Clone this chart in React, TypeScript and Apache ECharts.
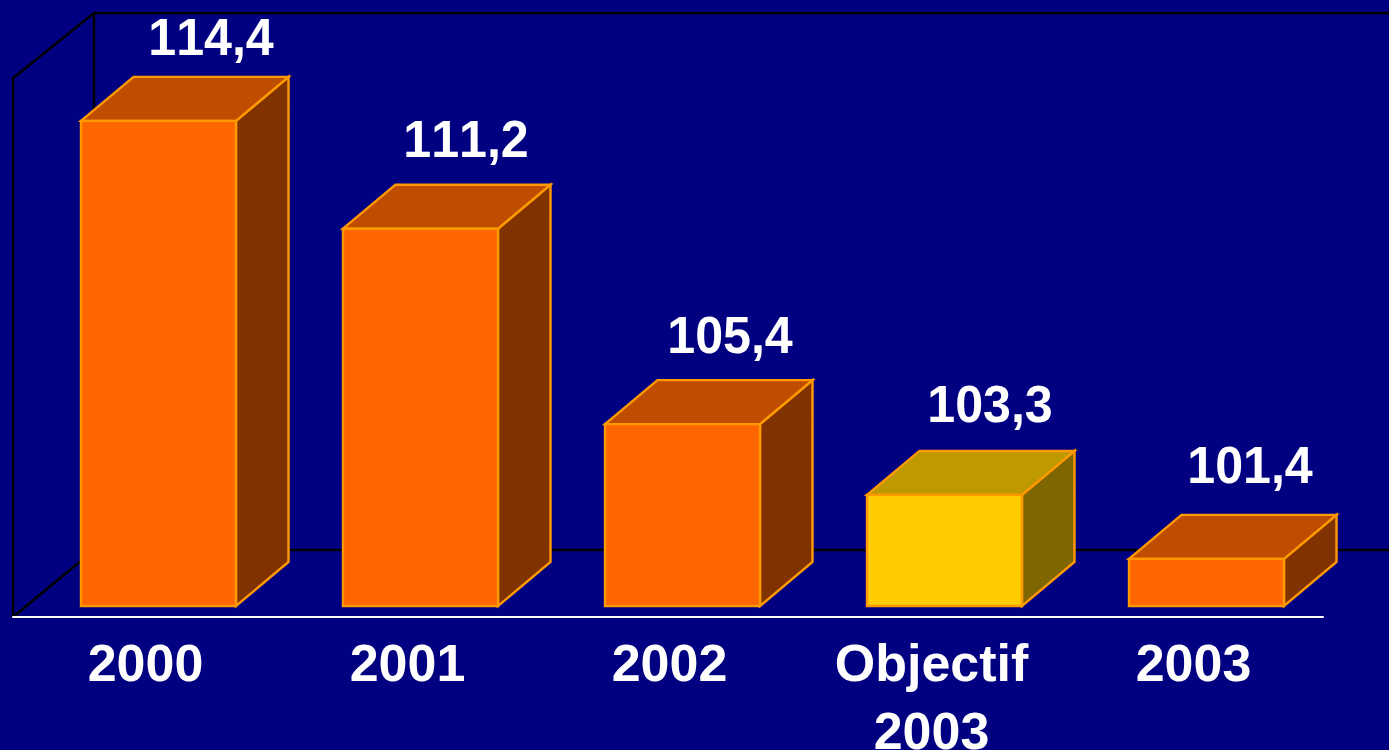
import React, { useEffect, useRef } from "react";
import * as echarts from "echarts";

const categories = ["2000", "2001", "2002", "Objectif\n2003", "2003"];
const values = [114.4, 111.2, 105.4, 103.3, 101.4];
const highlighted = [false, false, false, true, false];

const FONT = '"Liberation Sans", Arial, sans-serif';
const BG = "#000080";
const EDGE = "#FF9900";
const NORMAL = { front: "#FF6600", top: "#BF4D00", side: "#803300" };
const HIGHLIGHT = { front: "#FFCC00", top: "#BF9900", side: "#806600" };

// 3D look of the bars: gap to the front plane, depth vector, front-face width
const GAP_X = 14.5;
const GAP_Y = -11;
const DEPTH_X = 52.5;
const DEPTH_Y = -44;
const BAR_W = 155;
// hand-placed value labels in the reference: offsets from the bar's top-front centre
const LABEL_DX = [52.5, 45.5, 47.5, 45.5, 43.5];
const LABEL_DY = [-84, -90, -89, -91, -93.5];

const GRID = { left: 13, top: 78, width: 1310, height: 539 };

function renderBar(params: any, api: any) {
  const i = params.dataIndex;
  const top = api.coord([i, api.value(1)]);
  const base = api.coord([i, 100]);
  const c = highlighted[i] ? HIGHLIGHT : NORMAL;
  const x0 = top[0] + GAP_X - BAR_W / 2;
  const x1 = x0 + BAR_W;
  const y0 = top[1] + GAP_Y;
  const y1 = base[1] + GAP_Y;
  const style = (fill: string) => ({ fill, stroke: EDGE, lineWidth: 2.4, lineJoin: "miter" });
  const poly = (points: number[][], fill: string) => ({
    type: "polygon",
    shape: { points },
    style: style(fill),
  });
  return {
    type: "group",
    children: [
      poly(
        [
          [x1, y0],
          [x1 + DEPTH_X, y0 + DEPTH_Y],
          [x1 + DEPTH_X, y1 + DEPTH_Y],
          [x1, y1],
        ],
        c.side,
      ),
      poly(
        [
          [x0, y0],
          [x0 + DEPTH_X, y0 + DEPTH_Y],
          [x1 + DEPTH_X, y0 + DEPTH_Y],
          [x1, y0],
        ],
        c.top,
      ),
      poly(
        [
          [x0, y0],
          [x1, y0],
          [x1, y1],
          [x0, y1],
        ],
        c.front,
      ),
      {
        type: "text",
        x: top[0] + GAP_X + LABEL_DX[i],
        y: y0 + LABEL_DY[i],
        scaleX: 0.965,
        style: {
          text: api.value(1).toFixed(1).replace(".", ","),
          fill: "#FFFFFF",
          font: `bold 52px ${FONT}`,
          textAlign: "center",
          textVerticalAlign: "middle",
        },
      },
    ],
  };
}

const wallLine = { stroke: "#000000", lineWidth: 2.5, fill: "none" };

export default function App() {
  const ref = useRef<HTMLDivElement>(null);
  useEffect(() => {
    document.body.style.margin = "0";
    const chart = echarts.init(ref.current!, null, { renderer: "svg" });
    chart.setOption({
      animation: false,
      backgroundColor: BG,
      grid: { ...GRID, containLabel: false, outerBoundsMode: "none" },
      xAxis: {
        type: "category",
        data: categories,
        axisTick: { show: false },
        axisLine: { show: true, onZero: false, lineStyle: { color: "#FFFFFF", width: 2 } },
        axisLabel: {
          interval: 0,
          color: "#FFFFFF",
          fontFamily: FONT,
          fontWeight: "bold",
          fontSize: 52,
          lineHeight: 68,
          margin: 12,
          padding: [0, 0, 0, 3],
          verticalAlign: "top",
        },
      },
      yAxis: {
        type: "value",
        min: 100,
        max: 116,
        interval: 2,
        axisLabel: { show: false },
        axisTick: { show: false },
        splitLine: { show: false },
        axisLine: { show: false },
      },
      graphic: {
        elements: [
          {
            type: "polyline",
            z: 0,
            silent: true,
            shape: { points: [[13, 617], [13, 78], [94, 13], [1389, 13]] },
            style: wallLine,
          },
          {
            type: "polyline",
            z: 0,
            silent: true,
            shape: { points: [[13, 617], [94, 550], [1389, 550]] },
            style: wallLine,
          },
          {
            type: "line",
            z: 0,
            silent: true,
            shape: { x1: 94, y1: 13, x2: 94, y2: 550 },
            style: { stroke: "#000000", lineWidth: 2.5 },
          },
        ],
      },
      series: [
        {
          type: "custom",
          z: 5,
          clip: false,
          renderItem: renderBar,
          encode: { x: 0, y: 1 },
          data: values.map((v, i) => [i, v]),
        },
      ],
    });
    return () => chart.dispose();
  }, []);
  return (
    <>
      <style>{`svg text { font-kerning: none !important; }`}</style>
      <div ref={ref} style={{ width: 1389, height: 750, overflow: "hidden" }} />
    </>
  );
}
